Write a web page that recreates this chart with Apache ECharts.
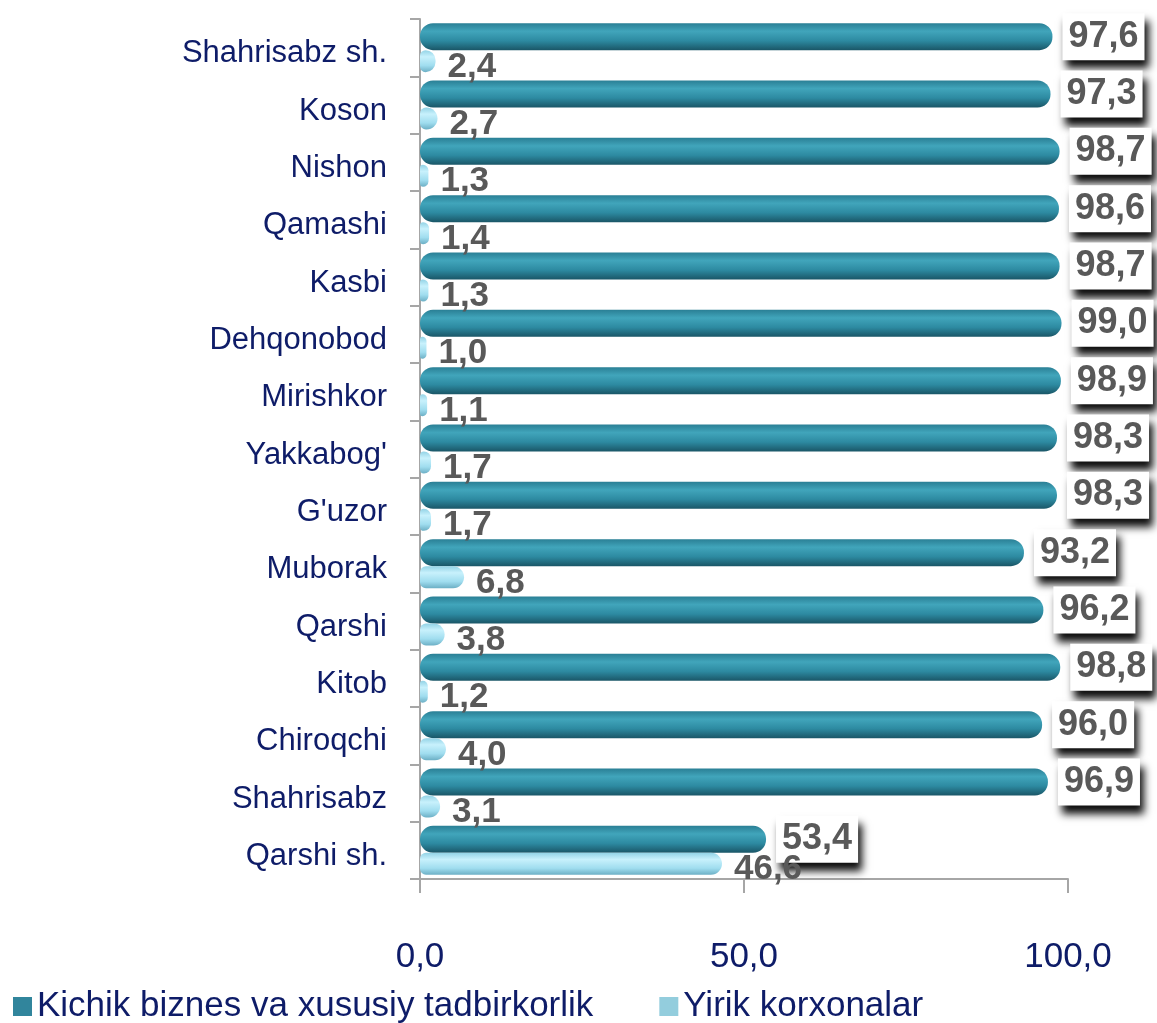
<!DOCTYPE html>
<html><head><meta charset="utf-8">
<script src="https://cdn.jsdelivr.net/npm/echarts@6/dist/echarts.min.js"></script>
<style>html,body{margin:0;padding:0;background:#fff}#c{width:1157px;height:1023px}</style>
</head><body><div id="c"></div>
<script>
const categories = ["Shahrisabz sh.","Koson","Nishon","Qamashi","Kasbi","Dehqonobod","Mirishkor","Yakkabog'","G'uzor","Muborak","Qarshi","Kitob","Chiroqchi","Shahrisabz","Qarshi sh."];
const smallBusiness = [97.6,97.3,98.7,98.6,98.7,99.0,98.9,98.3,98.3,93.2,96.2,98.8,96.0,96.9,53.4];
const largeEnterprises = [2.4,2.7,1.3,1.4,1.3,1.0,1.1,1.7,1.7,6.8,3.8,1.2,4.0,3.1,46.6];
const seriesNames = ["Kichik biznes va xususiy tadbirkorlik","Yirik korxonalar"];
const xTicks = [0,50,100];

const fmt = v => Number(v).toFixed(1).replace('.', ',');
const FONT = 'Liberation Sans, Arial';
const NAVY = '#0e1c68';
const chart = echarts.init(document.getElementById('c'));
const darkGrad = new echarts.graphic.LinearGradient(0,0,0,1,[
  {offset:0,color:'#2a7f95'},{offset:0.3,color:'#41a5bb'},{offset:0.65,color:'#2d8aa1'},{offset:1,color:'#1a5667'}]);
const lightGrad = new echarts.graphic.LinearGradient(0,0,0,1,[
  {offset:0,color:'#93d3e6'},{offset:0.3,color:'#c8f1fc'},{offset:0.7,color:'#a0ddef'},{offset:1,color:'#6cafc5'}]);
chart.setOption({
  animation:false,
  grid:{left:420,right:89,top:19,bottom:144,containLabel:false},
  legend:{
    top:984,left:8,itemWidth:19,itemHeight:19,itemGap:66,icon:'rect',
    textStyle:{fontFamily:FONT,fontSize:35,color:NAVY},
    data:[{name:seriesNames[0],itemStyle:{color:'#31859c'}},{name:seriesNames[1],itemStyle:{color:'#93cddd'}}]
  },
  xAxis:{
    type:'value',min:xTicks[0],max:xTicks[xTicks.length-1],interval:xTicks[1]-xTicks[0],
    axisLine:{show:true,lineStyle:{color:'#a6a6a6',width:2}},
    axisTick:{show:true,length:14,lineStyle:{color:'#a6a6a6',width:2}},
    splitLine:{show:false},
    axisLabel:{formatter:v=>fmt(v),fontFamily:FONT,fontSize:35,color:NAVY,margin:61}
  },
  yAxis:{
    type:'category',data:categories,inverse:true,
    axisLine:{show:true,lineStyle:{color:'#a6a6a6',width:2}},
    axisTick:{show:true,length:10,lineStyle:{color:'#a6a6a6',width:2}},
    axisLabel:{margin:33,formatter:v=>'{a|'+v+'}',
      rich:{a:{fontFamily:FONT,fontSize:31,color:NAVY,padding:[12,0,0,0]}}}
  },
  series:[
    {name:seriesNames[0],type:'bar',data:smallBusiness,barWidth:27,barGap:'0%',
     itemStyle:{color:darkGrad,borderRadius:[13,13,13,13]},
     label:{show:true,position:'right',distance:10,formatter:p=>fmt(p.value),
       fontFamily:FONT,fontSize:36,fontWeight:'bold',color:'#595959',
       backgroundColor:'#fff',padding:[6,6,5,6],
       shadowColor:'rgba(0,0,0,0.95)',shadowBlur:8,shadowOffsetX:4,shadowOffsetY:8}},
    {name:seriesNames[1],type:'bar',data:largeEnterprises,barWidth:22,
     itemStyle:{color:lightGrad,borderRadius:[6,11,11,6]},
     label:{show:true,position:'right',distance:12,offset:[0,6],formatter:p=>fmt(p.value),
       fontFamily:FONT,fontSize:35,fontWeight:'bold',color:'#595959'}}
  ]
});
</script></body></html>
